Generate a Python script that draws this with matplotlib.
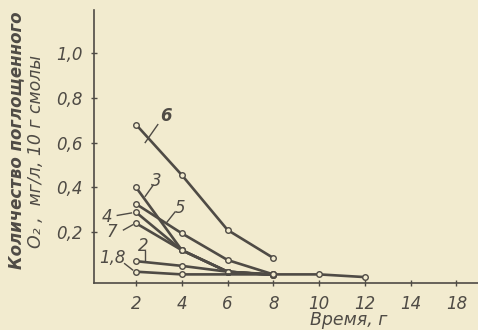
import matplotlib.pyplot as plt

# ---- data ----
x_ticks = [2, 4, 6, 8, 10, 12, 14, 16]
x_tick_labels = ['2', '4', '6', '8', '10', '12', '14', '18']
y_ticks = [0.2, 0.4, 0.6, 0.8, 1.0]
y_tick_labels = ['0,2', '0,4', '0,6', '0,8', '1,0']

curve_names = ['6', '3', '5', '4', '7', '2', '1,8']
x_6 = [2, 4, 6, 8]
y_6 = [0.68, 0.455, 0.21, 0.085]
x_3 = [2, 4, 6, 8]
y_3 = [0.40, 0.12, 0.024, 0.01]
x_5 = [2, 4, 6, 8]
y_5 = [0.326, 0.195, 0.076, 0.012]
x_4 = [2, 4, 6, 8]
y_4 = [0.289, 0.12, 0.024, 0.01]
x_7 = [2, 4, 6, 8]
y_7 = [0.24, 0.12, 0.024, 0.01]
x_2 = [2, 4, 6, 8]
y_2 = [0.071, 0.05, 0.024, 0.012]
x_18 = [2, 4, 8, 10, 12]
y_18 = [0.024, 0.012, 0.012, 0.012, 0.0]

curves = {'6': (x_6, y_6), '3': (x_3, y_3), '5': (x_5, y_5), '4': (x_4, y_4),
          '7': (x_7, y_7), '2': (x_2, y_2), '1,8': (x_18, y_18)}

# where the curve numbers sit (text pos, leader start -> end)
label_pos = {
    '6': ((3.3, 0.72), (2.95, 0.68), (2.4, 0.60)),
    '3': ((2.9, 0.43), (2.75, 0.41), (2.4, 0.36)),
    '5': ((3.9, 0.31), (3.7, 0.29), (3.35, 0.245)),
    '4': ((0.75, 0.27), (1.18, 0.275), (1.8, 0.286)),
    '7': ((0.95, 0.20), (1.45, 0.21), (1.85, 0.233)),
    '2': ((2.3, 0.14), (2.4, 0.115), (2.4, 0.07)),
    '1,8': ((0.95, 0.085), (1.5, 0.06), (1.85, 0.032)),
}

paper = '#f2ebcf'
ink = '#4f4b45'

fig = plt.figure(figsize=(4.78, 3.30), dpi=100, facecolor=paper)
ax = fig.add_axes([0.197, 0.142, 0.803, 0.827], facecolor=paper)

for name in curve_names:
    xs, ys = curves[name]
    ax.plot(xs, ys, color=ink, linewidth=1.9, marker='o', markersize=4,
            markerfacecolor=paper, markeredgecolor=ink, markeredgewidth=1.0,
            solid_capstyle='round', zorder=3)

for name, (txt, p0, p1) in label_pos.items():
    ax.plot([p0[0], p1[0]], [p0[1], p1[1]], color=ink, linewidth=1.0, zorder=2)
    ax.text(txt[0], txt[1], name, fontsize=12, style='italic', color=ink,
            ha='center', va='center', fontweight='bold' if name == '6' else 'normal')

ax.set_xlim(0.17, 16.94)
ax.set_ylim(-0.027, 1.19)
ax.set_xticks(x_ticks)
ax.set_xticklabels(x_tick_labels)
ax.set_yticks(y_ticks)
ax.set_yticklabels(y_tick_labels)
for sp in ['top', 'right']:
    ax.spines[sp].set_visible(False)
for sp in ['left', 'bottom']:
    ax.spines[sp].set_color(ink)
    ax.spines[sp].set_linewidth(1.2)
ax.tick_params(axis='both', direction='inout', length=5, width=1, color=ink,
               labelcolor=ink, labelsize=12, pad=6)
for lab in ax.get_xticklabels() + ax.get_yticklabels():
    lab.set_style('italic')

fig.text(0.033, 0.576, 'Количество поглощенного', rotation=90, fontsize=12,
         style='italic', fontweight='bold', color=ink, ha='center', va='center')
fig.text(0.076, 0.54, 'O₂ ,  мг/л, 10 г смолы', rotation=90, fontsize=12.5,
         style='italic', color=ink, ha='center', va='center')
fig.text(0.73, 0.03, 'Время, г', fontsize=12.5, style='italic', color=ink,
         ha='center', va='center')

fig.savefig('out.png', dpi=100, facecolor=paper)
